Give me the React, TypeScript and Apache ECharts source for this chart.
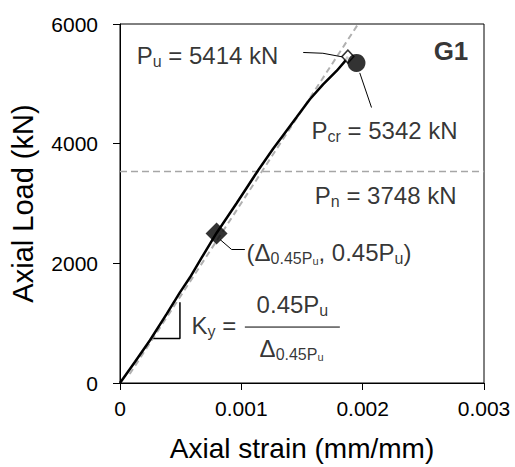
import { useEffect, useRef } from 'react';
import * as echarts from 'echarts';

// Measured load–strain curve (G1)
const strain = [0, 0.000124, 0.000247, 0.000385, 0.000494, 0.000576, 0.000673, 0.000796, 0.000961, 0.001139, 0.001262, 0.001345, 0.001455, 0.001565, 0.001674, 0.001785, 0.001853, 0.001878];
const load = [0, 356, 715, 1155, 1514, 1763, 2094, 2508, 3004, 3555, 3914, 4140, 4440, 4742, 4990, 5215, 5376, 5455];

// Stiffness (tangent) dashed line
const tangentStrain = [0.00008, 0.001963];
const tangentLoad = [150, 6000];

// Nominal load dashed line
const pnLineLoad = 3535;

// Key points
const puPoint = [0.001878, 5455];
const pcrPoint = [0.001949, 5350];
const p45Point = [0.000796, 2500];

// Label values
const PU = 5414;
const PCR = 5342;
const PN = 3748;

// Slope triangle
const triStrain = [0.000275, 0.000494, 0.000494];
const triLoad = [742, 742, 1349];

// Leader lines
const puLeaderStrain = [0.00151, 0.001672, 0.001839];
const puLeaderLoad = [5524, 5511, 5448];
const pcrLeaderStrain = [0.001976, 0.002073];
const pcrLeaderLoad = [5183, 4604];
const p45LeaderStrain = [0.000824, 0.00092, 0.001029];
const p45LeaderLoad = [2399, 2231, 2231];

// Fraction bar of Ky
const fracStrain = [0.001029, 0.001812];
const fracLoad = [935, 935];

const xTickLabels = ['0', '0.001', '0.002', '0.003'];
const yTickLabels = ['0', '2000', '4000', '6000'];

const FONT = "'Liberation Sans', Arial, sans-serif";

const zip = (xs: number[], ys: number[]) => xs.map((x, i) => [x, ys[i]]);

export default function App() {
  const ref = useRef<HTMLDivElement>(null);
  useEffect(() => {
    document.body.style.margin = '0';
    if (!ref.current) return;
    const chart = echarts.init(ref.current, undefined, { renderer: 'svg' });
    const rich = {
      m: { fontSize: 24, lineHeight: 28, color: '#000', fontFamily: FONT, verticalAlign: 'middle' },
      s: { fontSize: 16, color: '#000', fontFamily: FONT, verticalAlign: 'bottom' },
      ss: { fontSize: 11, color: '#000', fontFamily: FONT, verticalAlign: 'bottom' },
      b: { fontSize: 26, fontWeight: 'bold', color: '#000', fontFamily: FONT },
    };
    const lineS = (xs: number[], ys: number[], color: string, width: number, type: any = 'solid', z = 2) => ({
      type: 'line',
      data: zip(xs, ys),
      symbol: 'none',
      silent: true,
      z,
      lineStyle: { color, width, type },
    });
    const textItem = (x: number, y: number, formatter: string, position: any = 'right') => ({
      value: [x, y],
      label: { show: true, formatter, position, distance: 0, rich },
    });
    const option: any = {
      animation: false,
      grid: { left: 120, right: 31, top: 24, bottom: 80.5, show: true, borderColor: '#000', borderWidth: 1 },
      xAxis: {
        type: 'value', min: 0, max: 0.003, interval: 0.001,
        axisLine: { show: true, lineStyle: { color: '#000', width: 1 } },
        axisTick: { show: true, length: 7, lineStyle: { color: '#000' } },
        splitLine: { show: false },
        axisLabel: { fontSize: 21, color: '#000', fontFamily: FONT, margin: 15, formatter: (v: number) => xTickLabels[Math.round(v / 0.001)] },
        name: 'Axial strain (mm/mm)', nameLocation: 'middle', nameGap: 51,
        nameTextStyle: { fontSize: 28, color: '#000', fontFamily: FONT },
      },
      yAxis: {
        type: 'value', min: 0, max: 6000, interval: 2000,
        axisLine: { show: true, lineStyle: { color: '#000', width: 1 } },
        axisTick: { show: true, length: 7, lineStyle: { color: '#000' } },
        splitLine: { show: false },
        axisLabel: { fontSize: 21, color: '#000', fontFamily: FONT, margin: 22, formatter: (v: number) => yTickLabels[Math.round(v / 2000)] },
        name: 'Axial Load (kN)', nameLocation: 'middle', nameGap: 83,
        nameTextStyle: { fontSize: 29, color: '#000', fontFamily: FONT },
      },
      series: [
        lineS([0, 0.003], [pnLineLoad, pnLineLoad], '#a6a6a6', 1.5, [7, 4]),
        lineS(tangentStrain, tangentLoad, '#b0b0b0', 2, [6, 4]),
        lineS(strain, load, '#000', 2.5, 'solid', 3),
        lineS(triStrain, triLoad, '#000', 1.5),
        lineS(puLeaderStrain, puLeaderLoad, '#000', 1),
        lineS(pcrLeaderStrain, pcrLeaderLoad, '#000', 1),
        lineS(p45LeaderStrain, p45LeaderLoad, '#000', 1),
        lineS(fracStrain, fracLoad, '#000', 1),
        {
          type: 'scatter', z: 5, silent: true, symbol: 'diamond', symbolSize: [22, 22],
          itemStyle: { color: '#000' }, data: [p45Point],
        },
        {
          type: 'scatter', z: 5, silent: true, symbol: 'diamond', symbolSize: [12, 13],
          itemStyle: { color: '#fff', borderColor: '#000', borderWidth: 1.5 }, data: [puPoint],
        },
        {
          type: 'scatter', z: 6, silent: true, symbol: 'circle', symbolSize: 18,
          itemStyle: { color: '#000' }, data: [pcrPoint],
        },
        {
          type: 'scatter', z: 7, silent: true, symbol: 'circle', symbolSize: 0,
          itemStyle: { color: 'transparent' },
          data: [
            textItem(0.000138, 5470, `{m|P}{s|u}{m| = ${PU} kN}`),
            textItem(0.001579, 4212, `{m|P}{s|cr}{m| = ${PCR} kN}`),
            textItem(0.001606, 3136, `{m|P}{s|n}{m| = ${PN} kN}`),
            textItem(0.001043, 2176, `{m|(Δ}{s|0.45P}{ss|u}{m|, 0.45P}{s|u}{m|)}`),
            textItem(0.00059, 968, `{m|K}{s|y}{m| =}`),
            textItem(0.001421, 1316, `{m|0.45P}{s|u}`, 'inside'),
            textItem(0.001414, 571, `{m|Δ}{s|0.45P}{ss|u}`, 'inside'),
            textItem(0.002585, 5553, `{b|G1}`),
          ],
        },
      ],
    };
    chart.setOption(option);
    return () => chart.dispose();
  }, []);
  return <div ref={ref} style={{ width: 515, height: 467, position: 'absolute', left: 0, top: 0 }} />;
}
